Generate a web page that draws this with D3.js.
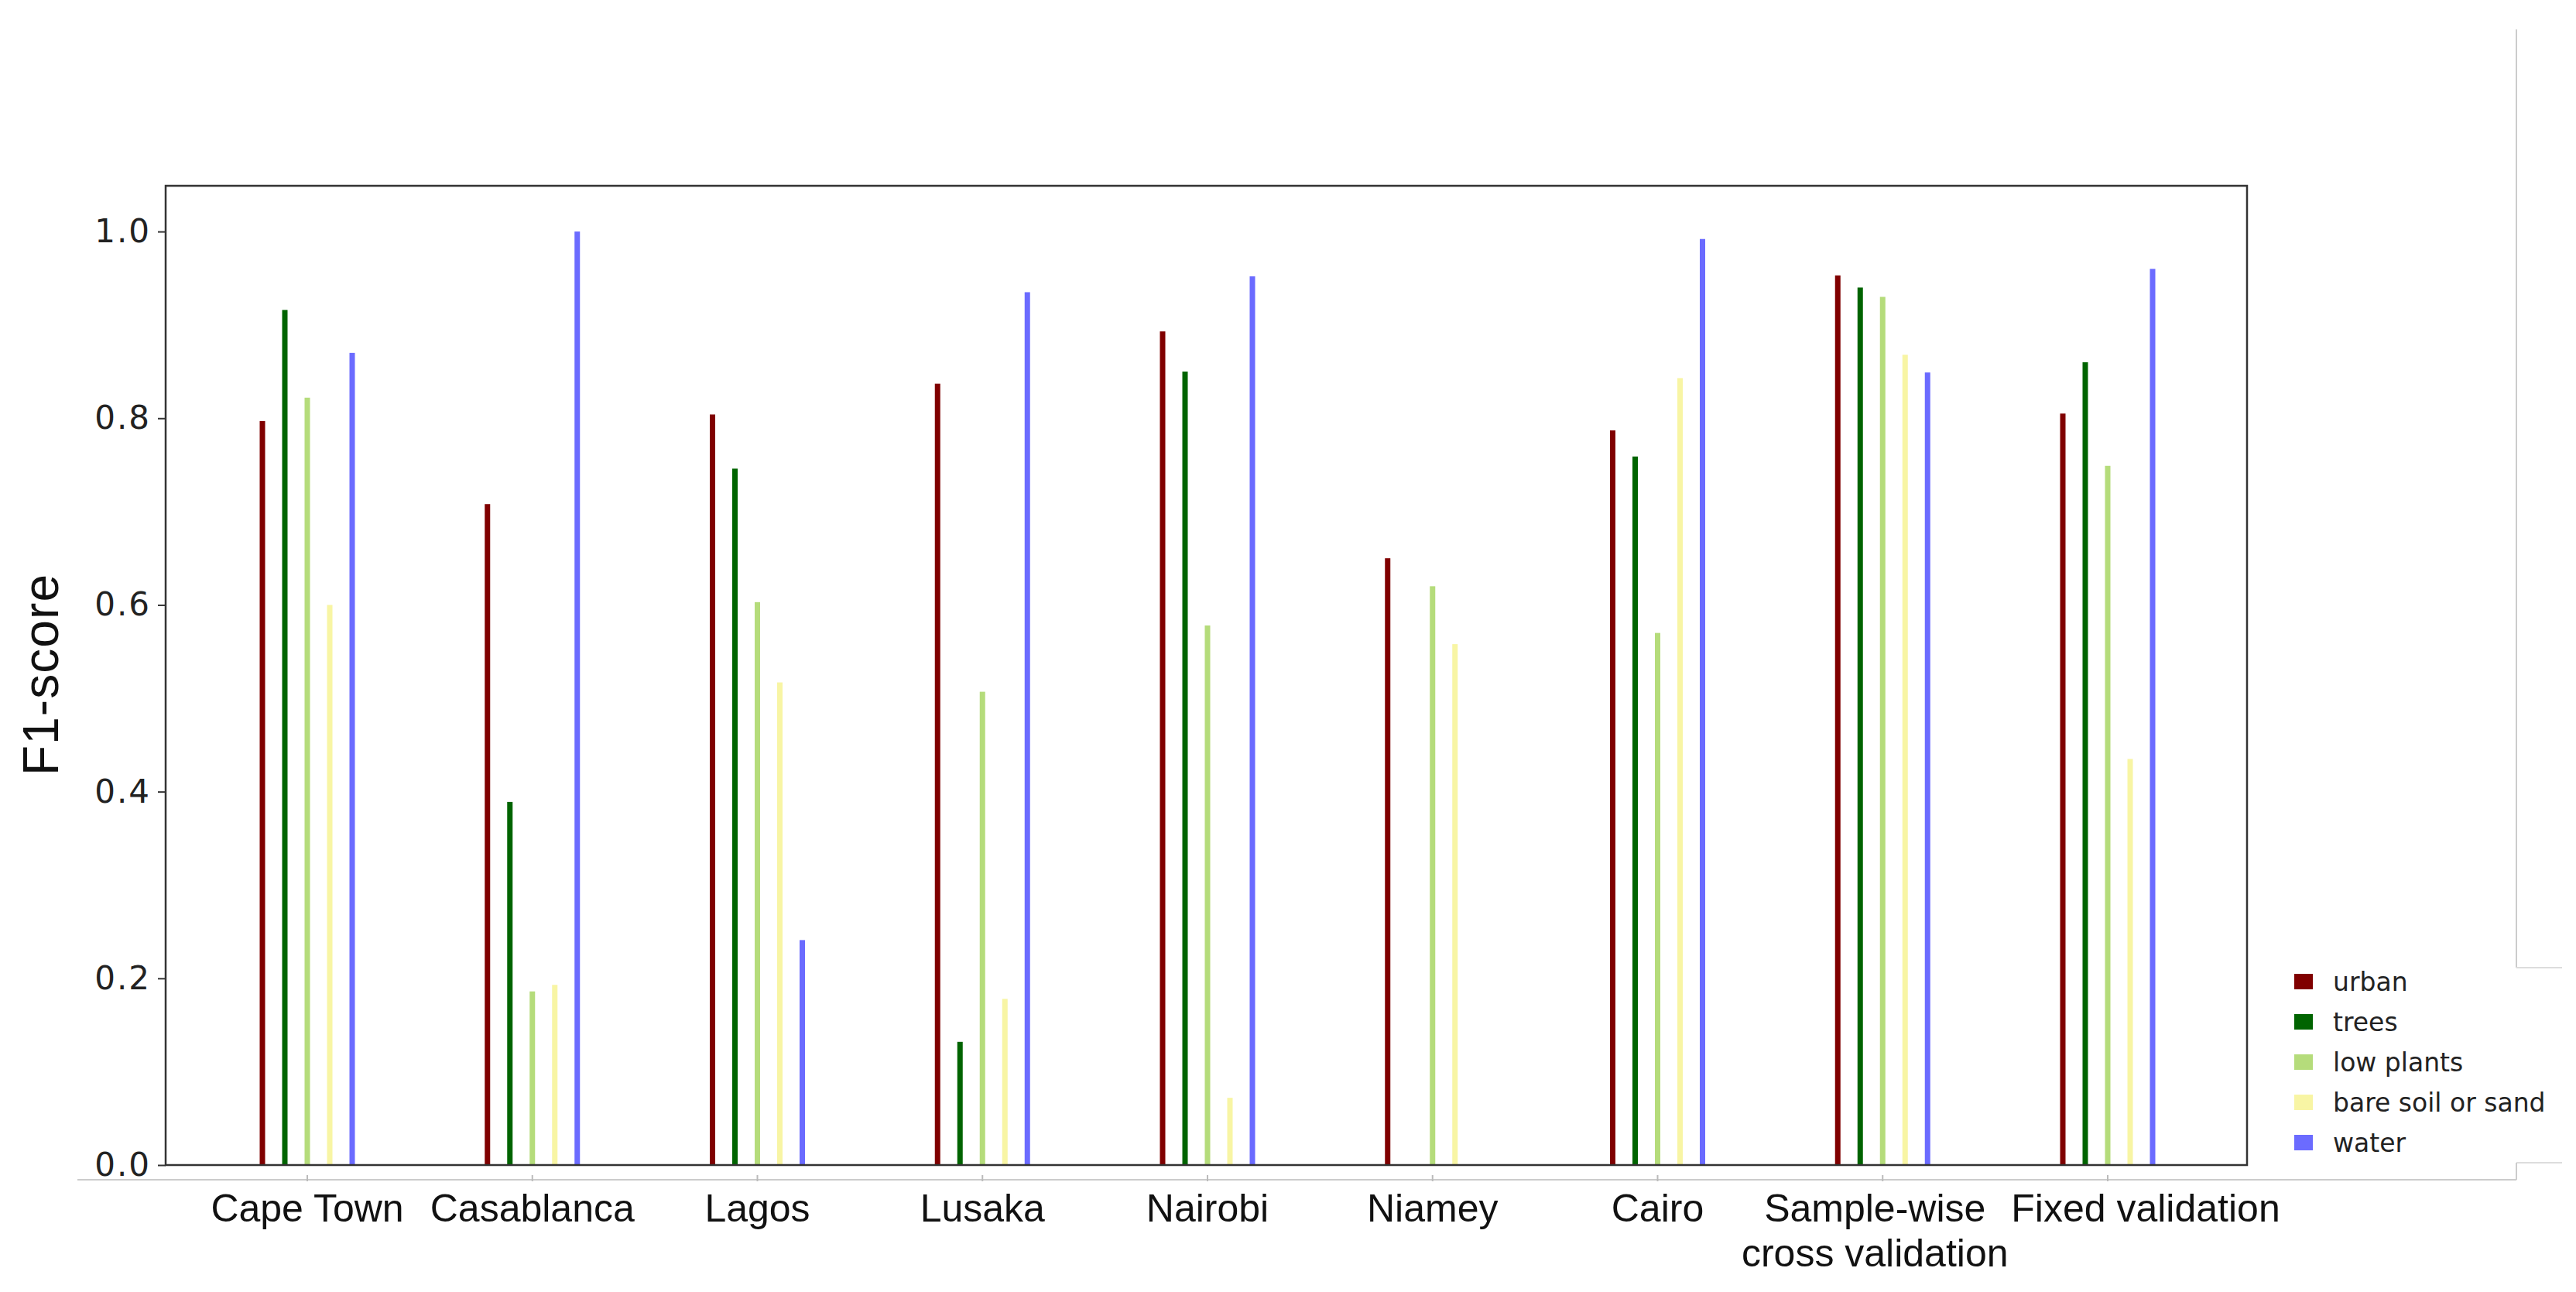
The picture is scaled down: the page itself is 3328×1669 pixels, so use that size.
<!DOCTYPE html><html><head><meta charset="utf-8">
<script src="https://cdn.jsdelivr.net/npm/d3@7"></script>
<style>body{margin:0;background:#fff}</style></head><body>
<script>
const categories=["Cape Town","Casablanca","Lagos","Lusaka","Nairobi","Niamey","Cairo","Sample-wise|cross validation","Fixed validation"];
const seriesNames=["urban","trees","low plants","bare soil or sand","water"];
const colors=["#800000","#006400","#b5dc7b","#f8f5a4","#6b6bff"];
const urban=[0.797,0.708,0.804,0.837,0.893,0.650,0.787,0.953,0.805];
const trees=[0.916,0.389,0.746,0.132,0.850,0,0.759,0.940,0.860];
const lowPlants=[0.822,0.186,0.603,0.507,0.578,0.620,0.570,0.930,0.749];
const bareSoil=[0.600,0.193,0.517,0.178,0.072,0.558,0.843,0.868,0.435];
const water=[0.870,1.0,0.241,0.935,0.952,0,0.992,0.849,0.960];
const yTicks=[0,0.2,0.4,0.6,0.8,1.0];
const series=[urban,trees,lowPlants,bareSoil,water];

const W=3328,H=1669,L=214,R=2903,T=240,B=1505;
const svg=d3.select("body").append("svg").attr("width",W).attr("height",H);
const y=d3.scaleLinear().domain([0,1.049]).range([B,T]);
const x=d3.scaleLinear().domain([0,8]).range([397,2723]);
const off=29;
svg.append("line").attr("x1",100).attr("x2",3251).attr("y1",1524).attr("y2",1524).attr("stroke","#ccc").attr("stroke-width",2);
svg.append("line").attr("x1",3251).attr("x2",3251).attr("y1",38).attr("y2",1250).attr("stroke","#ccc").attr("stroke-width",2);
svg.append("line").attr("x1",3251).attr("x2",3310).attr("y1",1250).attr("y2",1250).attr("stroke","#ddd").attr("stroke-width",2);
svg.append("line").attr("x1",3251).attr("x2",3310).attr("y1",1502).attr("y2",1502).attr("stroke","#ddd").attr("stroke-width",2);
svg.append("line").attr("x1",3251).attr("x2",3251).attr("y1",1502).attr("y2",1524).attr("stroke","#ccc").attr("stroke-width",2);
series.forEach((s,k)=>{
  svg.append("g").selectAll("rect").data(s).join("rect")
   .attr("x",(d,i)=>x(i)+(k-2)*off-3.5).attr("width",7)
   .attr("y",d=>y(d)).attr("height",d=>B-y(d)).attr("fill",colors[k]);
});
svg.append("rect").attr("x",L).attr("y",T).attr("width",R-L).attr("height",B-T).attr("fill","none").attr("stroke","#333").attr("stroke-width",2.5);
const ya=svg.append("g").attr("transform",`translate(${L},0)`).call(d3.axisLeft(y).tickValues(yTicks).tickFormat(d3.format(".1f")).tickSize(10));
ya.select(".domain").remove();
ya.selectAll("text").attr("font-family","DejaVu Sans").attr("font-size",42).attr("fill","#222").attr("dx",-6).attr("letter-spacing",2);
ya.selectAll("line").attr("stroke","#333").attr("stroke-width",2);
svg.append("g").selectAll("line").data(categories).join("line").attr("x1",(d,i)=>x(i)).attr("x2",(d,i)=>x(i)).attr("y1",1518).attr("y2",1526).attr("stroke","#bbb").attr("stroke-width",2);
const shift=i=>i===7?-10:(i===8?49:0);
const cl=svg.append("g").selectAll("text").data(categories).join("text")
 .attr("x",(d,i)=>x(i)+shift(i)).attr("y",1578).attr("text-anchor","middle")
 .attr("font-family","Liberation Sans, Arial").attr("font-size",50).attr("fill","#111");
cl.each(function(d){const parts=d.split("|");const t=d3.select(this);t.selectAll("tspan").data(parts).join("tspan").attr("x",t.attr("x")).attr("dy",(p,j)=>j?58:0).text(p=>p);});
svg.append("text").attr("transform","translate(75,872) rotate(-90)").attr("text-anchor","middle")
 .attr("font-family","Liberation Sans, Arial").attr("font-size",64).attr("fill","#111").attr("textLength",260).text("F1-score");
const lg=svg.append("g").selectAll("g").data(seriesNames).join("g").attr("transform",(d,i)=>`translate(2964,${1268+i*52})`);
lg.append("rect").attr("x",0).attr("y",-10).attr("width",24).attr("height",20).attr("fill",(d,i)=>colors[i]);
lg.append("text").attr("x",50).attr("y",12).attr("font-family","DejaVu Sans").attr("font-size",33).attr("fill","#222").text(d=>d);
</script></body></html>
